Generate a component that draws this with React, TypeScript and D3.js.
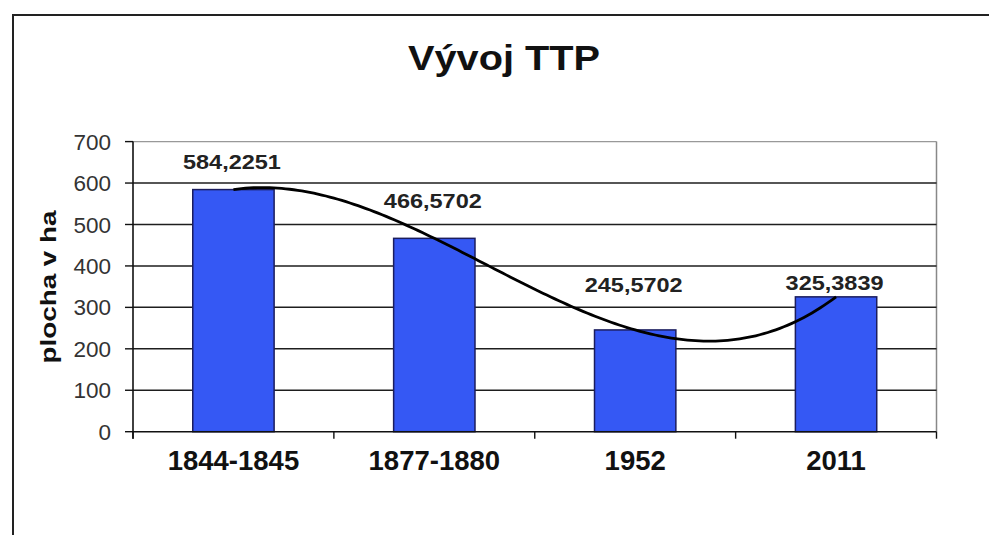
import React from "react";
import * as d3 from "d3";

const categories = ["1844-1845", "1877-1880", "1952", "2011"];
const values = [584.2251, 466.5702, 245.5702, 325.3839];
const valueLabels = ["584,2251", "466,5702", "245,5702", "325,3839"];
const yTicks = [0, 100, 200, 300, 400, 500, 600, 700];
// vertical lift (px) of each data label above its bar top (labels were hand-placed)
const labelLift = [20.6, 30.2, 38.3, 7];

const W = 989;
const H = 535;
const plot = { left: 133, right: 936.5, top: 141.6, bottom: 431.7 };

// Excel-like polynomial trendline (least squares, order 3) on x = 1..n
function polyFit(xs: number[], ys: number[], order: number): number[] {
  const m = order + 1;
  const A: number[][] = [];
  for (let r = 0; r < m; r++) {
    const row: number[] = [];
    for (let c = 0; c < m; c++) {
      row.push(d3.sum(xs, (x) => Math.pow(x, r + c)));
    }
    row.push(d3.sum(xs, (x, i) => Math.pow(x, r) * ys[i]));
    A.push(row);
  }
  for (let i = 0; i < m; i++) {
    let p = i;
    for (let k = i + 1; k < m; k++) if (Math.abs(A[k][i]) > Math.abs(A[p][i])) p = k;
    [A[i], A[p]] = [A[p], A[i]];
    for (let k = i + 1; k < m; k++) {
      const f = A[k][i] / A[i][i];
      for (let j = i; j <= m; j++) A[k][j] -= f * A[i][j];
    }
  }
  const coef = new Array(m).fill(0);
  for (let i = m - 1; i >= 0; i--) {
    let s = A[i][m];
    for (let j = i + 1; j < m; j++) s -= A[i][j] * coef[j];
    coef[i] = s / A[i][i];
  }
  return coef;
}

export default function App() {
  const x = d3.scaleBand<string>().domain(categories).range([plot.left, plot.right]).padding(0);
  const y = d3.scaleLinear().domain([0, 700]).range([plot.bottom, plot.top]);
  const step = x.bandwidth();
  const barW = step * 0.405;
  const center = (c: string) => (x(c) as number) + step / 2;

  const idx = categories.map((_, i) => i + 1);
  const coef = polyFit(idx, values, 3);
  const tx = d3.scaleLinear().domain([1, categories.length]).range([center(categories[0]), center(categories[categories.length - 1])]);
  const samples = d3.range(1, categories.length + 0.0001, 0.02);
  const trend = d3
    .line<number>()
    .x((t) => tx(t))
    .y((t) => y(coef.reduce((s, c, k) => s + c * Math.pow(t, k), 0)))
    .curve(d3.curveLinear)(samples) as string;

  const font = "Arial, 'Liberation Sans', Helvetica, sans-serif";
  const boundaries = [...categories.map((c) => x(c) as number), plot.right];

  return (
    <svg width={W} height={H} style={{ position: "absolute", left: 0, top: 0, background: "#fff" }} fontFamily={font}>
      <rect x={0} y={0} width={W} height={H} fill="#fff" />
      <path d={`M13,${H} V15 H${W}`} fill="none" stroke="#222" strokeWidth={2} />

      <text x={504} y={70} textAnchor="middle" fontSize={34.5} fontWeight="bold" fill="#111" textLength={192} lengthAdjust="spacingAndGlyphs">
        Vývoj TTP
      </text>

      {/* plot frame */}
      <line x1={plot.left} x2={plot.right} y1={plot.top} y2={plot.top} stroke="#999" strokeWidth={1.2} />
      <line x1={plot.right} x2={plot.right} y1={plot.top} y2={plot.bottom} stroke="#888" strokeWidth={1.5} />

      {/* gridlines */}
      {yTicks.filter((t) => t > 0 && t < 700).map((t) => (
        <line key={t} x1={plot.left} x2={plot.right} y1={y(t)} y2={y(t)} stroke="#1e1e1e" strokeWidth={1.5} />
      ))}

      {/* y ticks and labels */}
      {yTicks.map((t) => (
        <g key={t}>
          <line x1={125} x2={plot.left} y1={y(t)} y2={y(t)} stroke="#111" strokeWidth={1.4} />
          <text x={111} y={y(t)} dy="0.36em" textAnchor="end" fontSize={22.5} fill="#333">
            {t}
          </text>
        </g>
      ))}

      <text
        transform={`translate(56,287) rotate(-90)`}
        textAnchor="middle"
        fontSize={21.5}
        fontWeight="bold"
        fill="#111"
        textLength={153}
        lengthAdjust="spacingAndGlyphs"
      >
        plocha v ha
      </text>

      {/* bars */}
      {categories.map((c, i) => (
        <rect
          key={c}
          x={center(c) - barW / 2}
          y={y(values[i])}
          width={barW}
          height={y(0) - y(values[i])}
          fill="#3558f4"
          stroke="#1b1d5e"
          strokeWidth={1.5}
        />
      ))}

      {/* axes */}
      <line x1={plot.left} x2={plot.left} y1={plot.top} y2={plot.bottom + 7} stroke="#111" strokeWidth={1.6} />
      <line x1={plot.left} x2={plot.right} y1={plot.bottom} y2={plot.bottom} stroke="#111" strokeWidth={1.6} />
      {boundaries.map((b, i) => (
        <line key={i} x1={b} x2={b} y1={plot.bottom} y2={plot.bottom + 7} stroke="#111" strokeWidth={1.4} />
      ))}

      {/* trendline */}
      <path d={trend} fill="none" stroke="#000" strokeWidth={2.8} />

      {/* data labels */}
      {categories.map((c, i) => (
        <text
          key={c}
          x={center(c) - 1.5}
          y={y(values[i]) - labelLift[i]}
          textAnchor="middle"
          fontSize={20.5}
          fontWeight="bold"
          fill="#222"
          textLength={98}
          lengthAdjust="spacingAndGlyphs"
        >
          {valueLabels[i]}
        </text>
      ))}

      {/* category labels */}
      {categories.map((c) => (
        <text key={c} x={center(c)} y={469.5} textAnchor="middle" fontSize={27.5} fontWeight="bold" fill="#111">
          {c}
        </text>
      ))}
    </svg>
  );
}
